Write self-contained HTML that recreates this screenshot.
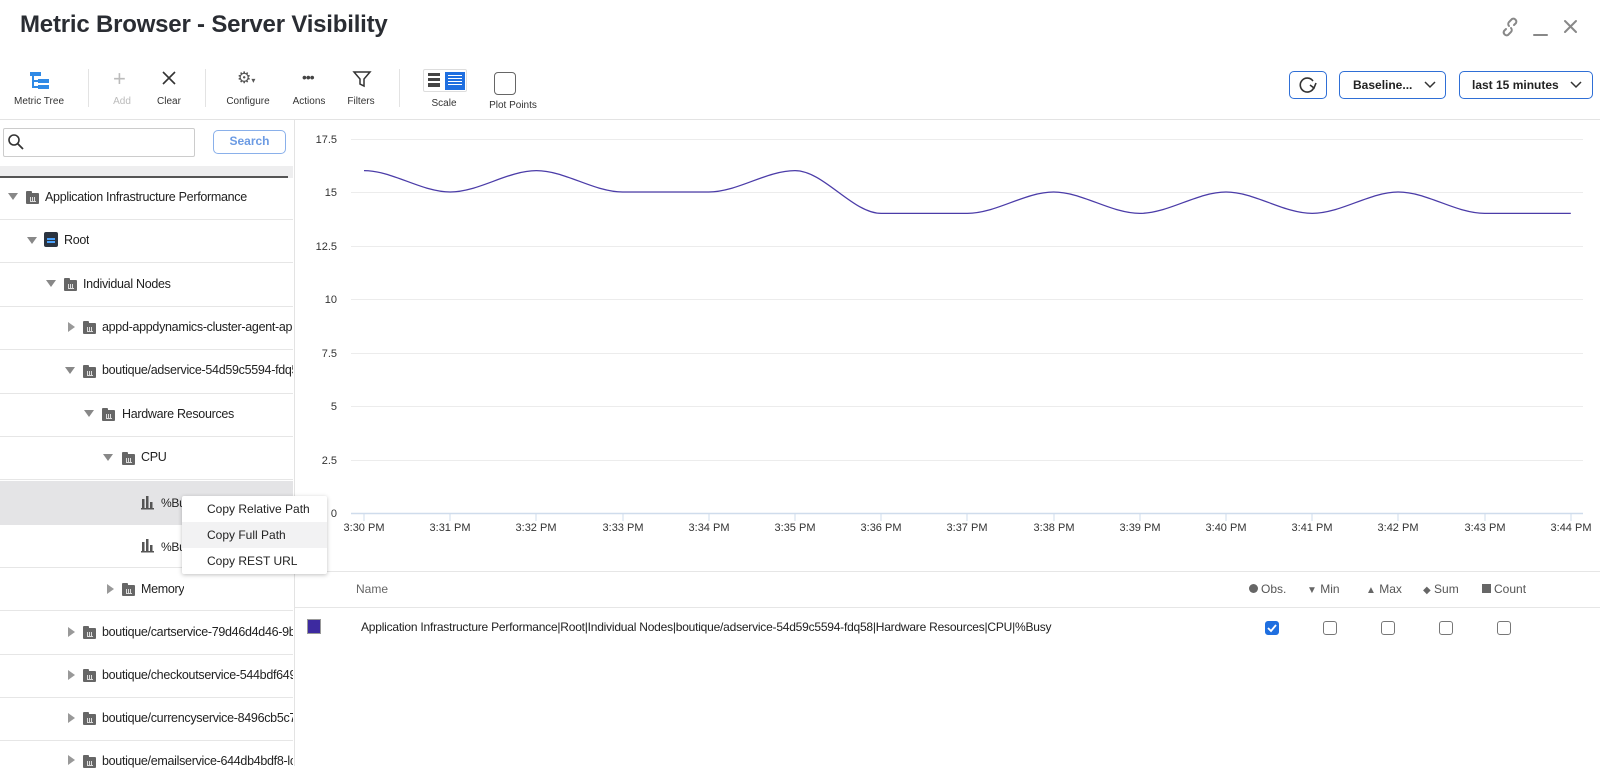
<!DOCTYPE html>
<html><head><meta charset="utf-8">
<style>
*{margin:0;padding:0;box-sizing:border-box}
body{width:1600px;height:766px;overflow:hidden;background:#fff;font-family:"Liberation Sans",sans-serif;color:#222;position:relative}
.a{position:absolute}
.tl{position:absolute;font-size:11px;color:#333;transform:translateX(-50%);white-space:nowrap}
.row{position:absolute;left:0;width:293px;height:43px;border-bottom:1px solid #e6e6e6}
.tt{position:absolute;font-size:12.5px;letter-spacing:-0.3px;color:#222;white-space:nowrap;overflow:hidden}
.tri{position:absolute;width:0;height:0}
.tri.d{border-left:5px solid transparent;border-right:5px solid transparent;border-top:7px solid #888}
.tri.r{border-top:5px solid transparent;border-bottom:5px solid transparent;border-left:7px solid #999}
.fold{position:absolute;width:13px;height:11px;background:#666;border-radius:1px}
.fold:before{content:"";position:absolute;left:0;top:-2px;width:6px;height:3px;background:#666;border-radius:1px 1px 0 0}
.fold:after{content:"";position:absolute;left:4px;top:4px;width:6px;height:4px;border-bottom:1px solid #ddd;background:linear-gradient(90deg,#ddd 1px,transparent 1px,transparent 2px,#ddd 2px,#ddd 3px,transparent 3px,transparent 4px,#ddd 4px,#ddd 5px,transparent 5px)}
.cb{position:absolute;width:14px;height:14px;border:1.5px solid #777;border-radius:3px;top:621px}
.btn{position:absolute;border:1.5px solid #2f6fd6;border-radius:5px;height:28px;top:71px;font-size:12px;font-weight:bold;color:#222}
</style></head><body>
<div class="a" style="left:20px;top:11px;font-size:24px;font-weight:bold;color:#2a2d33;letter-spacing:-0.2px">Metric Browser - Server Visibility</div>
<svg class="a" style="left:1500px;top:16px" width="90" height="22" viewBox="0 0 90 22">
<g fill="none" stroke="#888" stroke-width="2" stroke-linecap="round">
<path d="M6 13 l-2 2 a3 3 0 0 0 4 4 l3-3 a3 3 0 0 0 0-4"/><path d="M14 9 l2-2 a3 3 0 0 0 -4-4 l-3 3 a3 3 0 0 0 0 4"/>
<path d="M34 19 h13"/><path d="M65 5 l11 11 M76 5 l-11 11"/></g></svg>
<!-- toolbar -->
<svg class="a" style="left:29px;top:71px" width="22" height="20"><g fill="#2f8ae6"><rect x="1" y="1" width="11" height="4"/><rect x="9" y="8" width="11" height="4"/><rect x="9" y="14" width="11" height="4"/><rect x="3" y="3" width="2" height="14"/><rect x="3" y="9" width="6" height="2"/><rect x="3" y="15" width="6" height="2"/></g></svg>
<div class="tl" style="left:39px;top:96px;font-size:10px">Metric Tree</div>
<div class="a" style="left:88px;top:69px;width:1px;height:38px;background:#e3e3e3"></div>
<div class="a" style="left:113px;top:66px;font-size:22px;color:#bbb;font-weight:300">+</div>
<div class="tl" style="left:122px;top:96px;font-size:10px;color:#bbb">Add</div>
<svg class="a" style="left:162px;top:71px" width="14" height="14"><path d="M1 1L13 13M13 1L1 13" stroke="#333" stroke-width="1.6"/></svg>
<div class="tl" style="left:169px;top:96px;font-size:10px">Clear</div>
<div class="a" style="left:205px;top:69px;width:1px;height:38px;background:#e3e3e3"></div>
<div class="a" style="left:237px;top:68px;font-size:16px;color:#555">⚙<span style="font-size:8px">▾</span></div>
<div class="tl" style="left:248px;top:96px;font-size:10px">Configure</div>
<div class="a" style="left:302px;top:69px;font-size:14px;color:#444;letter-spacing:-1px">•••</div>
<div class="tl" style="left:309px;top:96px;font-size:10px">Actions</div>
<svg class="a" style="left:352px;top:70px" width="20" height="18"><path d="M2 2h16l-6 7v7l-4-2v-5z" fill="none" stroke="#333" stroke-width="1.5"/></svg>
<div class="tl" style="left:361px;top:96px;font-size:10px">Filters</div>
<div class="a" style="left:399px;top:69px;width:1px;height:38px;background:#e3e3e3"></div>
<div class="a" style="left:423px;top:69px;width:44px;height:23px;border:1px solid #ddd;border-radius:2px"></div>
<svg class="a" style="left:427px;top:72px" width="40" height="18"><g fill="#444"><rect x="1" y="1" width="12" height="3"/><rect x="1" y="6" width="12" height="3"/><rect x="1" y="11" width="12" height="4"/></g><rect x="18" y="0" width="20" height="18" fill="#1f6fe0"/><g fill="#fff"><rect x="21" y="3" width="14" height="1"/><rect x="21" y="6" width="14" height="1"/><rect x="21" y="9" width="14" height="1"/><rect x="21" y="12" width="14" height="1"/></g></svg>
<div class="tl" style="left:444px;top:98px;font-size:10px">Scale</div>
<div class="a" style="left:494px;top:72px;width:22px;height:23px;border:1.5px solid #666;border-radius:4px"></div>
<div class="tl" style="left:513px;top:100px;font-size:10px">Plot Points</div>
<div class="btn" style="left:1289px;width:38px"><svg style="position:absolute;left:9px;top:4px" width="18" height="18"><path d="M14 5a7 7 0 1 0 1 6" fill="none" stroke="#333" stroke-width="1.6"/><path d="M11 9l4 3 2-5" fill="none" stroke="#333" stroke-width="1.6"/></svg></div>
<div class="btn" style="left:1339px;width:107px"><span style="position:absolute;left:13px;top:6px">Baseline...</span><svg style="position:absolute;left:84px;top:9px" width="12" height="8"><path d="M1 1l5 5 5-5" fill="none" stroke="#333" stroke-width="1.5"/></svg></div>
<div class="btn" style="left:1459px;width:134px"><span style="position:absolute;left:12px;top:6px">last 15 minutes</span><svg style="position:absolute;left:110px;top:9px" width="12" height="8"><path d="M1 1l5 5 5-5" fill="none" stroke="#333" stroke-width="1.5"/></svg></div>
<div class="a" style="left:0;top:119px;width:1600px;height:1px;background:#e3e3e3"></div>
<!-- search -->
<div class="a" style="left:3px;top:128px;width:192px;height:29px;border:1px solid #ccc;border-radius:2px"></div>
<svg class="a" style="left:7px;top:133px" width="18" height="18"><circle cx="7" cy="7" r="5" fill="none" stroke="#333" stroke-width="1.6"/><path d="M11 11l5 5" stroke="#333" stroke-width="1.8"/></svg>
<div class="a" style="left:213px;top:130px;width:73px;height:24px;border:1.5px solid #8ab0ea;border-radius:5px;color:#6c9be3;font-weight:bold;font-size:12px;text-align:center;line-height:21px">Search</div>
<!-- tree -->
<div class="a" style="left:0;top:166px;width:293px;height:12px;background:#eeeeef"></div>
<div class="a" style="left:0;top:176px;width:288px;height:2px;background:#555"></div>
<div class="a" style="left:294px;top:120px;width:1px;height:646px;background:#e3e3e3"></div>
<div class="a" style="left:0;top:481px;width:293px;height:44px;background:#e4e4e6"></div>
<div class="row" style="top:177px"></div><div class="row" style="top:220px"></div><div class="row" style="top:264px"></div><div class="row" style="top:307px"></div><div class="row" style="top:351px"></div><div class="row" style="top:394px"></div><div class="row" style="top:437px"></div><div class="row" style="top:525px"></div><div class="row" style="top:568px"></div><div class="row" style="top:612px"></div><div class="row" style="top:655px"></div><div class="row" style="top:698px"></div>

<div class="tri d" style="left:8px;top:193px"></div><div class="fold" style="left:26px;top:193px"></div><div class="tt" style="left:45px;top:190px">Application Infrastructure Performance</div>
<div class="tri d" style="left:27px;top:237px"></div><div class="a" style="left:44px;top:232px;width:14px;height:15px;background:#2b3440;border-radius:2px"></div><div class="a" style="left:47px;top:238px;width:8px;height:1.5px;background:#4aa3ff;box-shadow:0 3px 0 #4aa3ff"></div><div class="tt" style="left:64px;top:233px">Root</div>
<div class="tri d" style="left:46px;top:280px"></div><div class="fold" style="left:64px;top:280px"></div><div class="tt" style="left:83px;top:277px">Individual Nodes</div>
<div class="tri r" style="left:68px;top:322px"></div><div class="fold" style="left:83px;top:323px"></div><div class="tt" style="left:102px;top:320px;width:191px">appd-appdynamics-cluster-agent-app</div>
<div class="tri d" style="left:65px;top:367px"></div><div class="fold" style="left:83px;top:367px"></div><div class="tt" style="left:102px;top:363px;width:191px">boutique/adservice-54d59c5594-fdq58</div>
<div class="tri d" style="left:84px;top:410px"></div><div class="fold" style="left:102px;top:410px"></div><div class="tt" style="left:122px;top:407px">Hardware Resources</div>
<div class="tri d" style="left:103px;top:454px"></div><div class="fold" style="left:122px;top:454px"></div><div class="tt" style="left:141px;top:450px">CPU</div>
<svg class="a" style="left:141px;top:496px" width="14" height="14"><g fill="#555"><rect x="1" y="3" width="2.5" height="9"/><rect x="5" y="0" width="2.5" height="12"/><rect x="9" y="6" width="2.5" height="6"/><rect x="0" y="12" width="13" height="1.5"/></g></svg><div class="tt" style="left:161px;top:496px;font-size:12px">%Bu</div>
<svg class="a" style="left:141px;top:539px" width="14" height="14"><g fill="#555"><rect x="1" y="3" width="2.5" height="9"/><rect x="5" y="0" width="2.5" height="12"/><rect x="9" y="6" width="2.5" height="6"/><rect x="0" y="12" width="13" height="1.5"/></g></svg><div class="tt" style="left:161px;top:540px;font-size:12px">%Bu</div>
<div class="tri r" style="left:107px;top:584px"></div><div class="fold" style="left:122px;top:585px"></div><div class="tt" style="left:141px;top:582px">Memory</div>
<div class="tri r" style="left:68px;top:627px"></div><div class="fold" style="left:83px;top:628px"></div><div class="tt" style="left:102px;top:625px;width:191px">boutique/cartservice-79d46d4d46-9b</div>
<div class="tri r" style="left:68px;top:670px"></div><div class="fold" style="left:83px;top:671px"></div><div class="tt" style="left:102px;top:668px;width:191px">boutique/checkoutservice-544bdf649</div>
<div class="tri r" style="left:68px;top:713px"></div><div class="fold" style="left:83px;top:714px"></div><div class="tt" style="left:102px;top:711px;width:191px">boutique/currencyservice-8496cb5c7</div>
<div class="tri r" style="left:68px;top:755px"></div><div class="fold" style="left:83px;top:757px"></div><div class="tt" style="left:102px;top:754px;width:191px">boutique/emailservice-644db4bdf8-lc</div>
<!-- chart -->
<svg class="a" style="left:0;top:0" width="1600" height="560">
<g stroke="#ececec" stroke-width="1">
<line x1="351" x2="1583" y1="139.5" y2="139.5"/><line x1="351" x2="1583" y1="192.5" y2="192.5"/><line x1="351" x2="1583" y1="246.5" y2="246.5"/><line x1="351" x2="1583" y1="299.5" y2="299.5"/><line x1="351" x2="1583" y1="353.5" y2="353.5"/><line x1="351" x2="1583" y1="406.5" y2="406.5"/><line x1="351" x2="1583" y1="460.5" y2="460.5"/></g>
<line x1="351" x2="1583" y1="513.5" y2="513.5" stroke="#cfdcec" stroke-width="1.5"/>
<g font-family="Liberation Sans, sans-serif" font-size="11" fill="#333" text-anchor="end">
<text x="337" y="143">17.5</text><text x="337" y="196">15</text><text x="337" y="250">12.5</text><text x="337" y="303">10</text><text x="337" y="357">7.5</text><text x="337" y="410">5</text><text x="337" y="464">2.5</text><text x="337" y="517">0</text></g>
<g stroke="#cfdcec" stroke-width="1">
<line x1="364" x2="364" y1="513" y2="521"/><line x1="450" x2="450" y1="513" y2="521"/><line x1="536" x2="536" y1="513" y2="521"/><line x1="623" x2="623" y1="513" y2="521"/><line x1="709" x2="709" y1="513" y2="521"/><line x1="795" x2="795" y1="513" y2="521"/><line x1="881" x2="881" y1="513" y2="521"/><line x1="967" x2="967" y1="513" y2="521"/><line x1="1054" x2="1054" y1="513" y2="521"/><line x1="1140" x2="1140" y1="513" y2="521"/><line x1="1226" x2="1226" y1="513" y2="521"/><line x1="1312" x2="1312" y1="513" y2="521"/><line x1="1398" x2="1398" y1="513" y2="521"/><line x1="1485" x2="1485" y1="513" y2="521"/><line x1="1571" x2="1571" y1="513" y2="521"/></g>
<path fill="none" stroke="#4b3ca8" stroke-width="1.3" d="M364,170.6 C392.7,170.6 421.5,192 450.2,192 C478.9,192 507.7,170.6 536.4,170.6 C565.1,170.6 593.9,192 622.6,192 C651.3,192 680.1,192 708.8,192 C737.5,192 766.3,170.6 795,170.6 C823.7,170.6 852.5,213.4 881.2,213.4 C909.9,213.4 938.7,213.4 967.4,213.4 C996.1,213.4 1024.9,192 1053.6,192 C1082.3,192 1111.1,213.4 1139.8,213.4 C1168.5,213.4 1197.3,192 1226,192 C1254.7,192 1283.5,213.4 1312.2,213.4 C1340.9,213.4 1369.7,192 1398.4,192 C1427.1,192 1455.9,213.4 1484.6,213.4 C1513.3,213.4 1542.1,213.4 1570.8,213.4"/>
</svg>
<div class="tl" style="left:364px;top:522px">3:30 PM</div><div class="tl" style="left:450px;top:522px">3:31 PM</div><div class="tl" style="left:536px;top:522px">3:32 PM</div><div class="tl" style="left:623px;top:522px">3:33 PM</div><div class="tl" style="left:709px;top:522px">3:34 PM</div><div class="tl" style="left:795px;top:522px">3:35 PM</div><div class="tl" style="left:881px;top:522px">3:36 PM</div><div class="tl" style="left:967px;top:522px">3:37 PM</div><div class="tl" style="left:1054px;top:522px">3:38 PM</div><div class="tl" style="left:1140px;top:522px">3:39 PM</div><div class="tl" style="left:1226px;top:522px">3:40 PM</div><div class="tl" style="left:1312px;top:522px">3:41 PM</div><div class="tl" style="left:1398px;top:522px">3:42 PM</div><div class="tl" style="left:1485px;top:522px">3:43 PM</div><div class="tl" style="left:1571px;top:522px">3:44 PM</div>
<!-- table -->
<div class="a" style="left:295px;top:571px;width:1305px;height:1px;background:#e6e6e6"></div>
<div class="a" style="left:295px;top:607px;width:1305px;height:1px;background:#e6e6e6"></div>
<div class="a" style="left:356px;top:582px;font-size:12px;color:#666">Name</div>
<div class="a" style="left:1249px;top:582px;font-size:12px;color:#555;white-space:nowrap"><span style="display:inline-block;width:9px;height:9px;border-radius:50%;background:#666;margin-right:3px"></span>Obs.</div>
<div class="a" style="left:1307px;top:582px;font-size:12px;color:#555"><span style="font-size:10px;color:#666">▼</span> Min</div>
<div class="a" style="left:1366px;top:582px;font-size:12px;color:#555"><span style="font-size:10px;color:#666">▲</span> Max</div>
<div class="a" style="left:1423px;top:582px;font-size:12px;color:#555"><span style="font-size:10px;color:#666">◆</span> Sum</div>
<div class="a" style="left:1482px;top:582px;font-size:12px;color:#555"><span style="display:inline-block;width:9px;height:9px;background:#666;margin-right:3px"></span>Count</div>
<div class="a" style="left:307px;top:619px;width:14px;height:15px;background:#3d2aa0;border:1px solid #999"></div>
<div class="a" style="left:361px;top:620px;font-size:12px;color:#222;white-space:nowrap;letter-spacing:-0.22px">Application Infrastructure Performance|Root|Individual Nodes|boutique/adservice-54d59c5594-fdq58|Hardware Resources|CPU|%Busy</div>
<div class="cb" style="left:1265px;background:#1f6fe0;border-color:#1f6fe0"><svg style="position:absolute;left:1px;top:1px" width="10" height="10"><path d="M1 5l3 3 5-6" fill="none" stroke="#fff" stroke-width="1.8"/></svg></div>
<div class="cb" style="left:1323px"></div><div class="cb" style="left:1381px"></div><div class="cb" style="left:1439px"></div><div class="cb" style="left:1497px"></div>
<!-- context menu -->
<div class="a" style="left:182px;top:496px;width:145px;height:78px;background:#fff;box-shadow:0 1px 4px rgba(0,0,0,0.25);border-radius:2px"></div>
<div class="a" style="left:182px;top:522px;width:145px;height:26px;background:#f2f2f3"></div>
<div class="a" style="left:207px;top:502px;font-size:12px;color:#222">Copy Relative Path</div>
<div class="a" style="left:207px;top:528px;font-size:12px;color:#222">Copy Full Path</div>
<div class="a" style="left:207px;top:554px;font-size:12px;color:#222">Copy REST URL</div>
</body></html>
